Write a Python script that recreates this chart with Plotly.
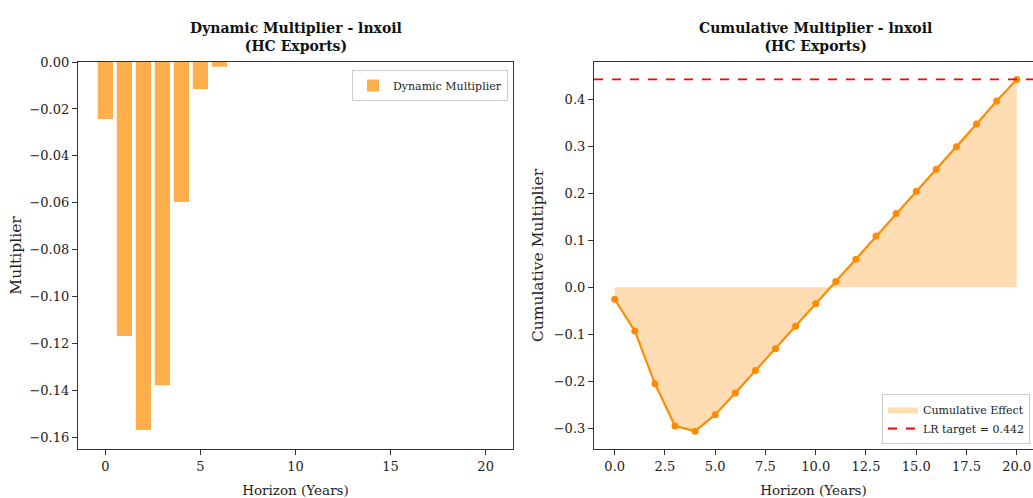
import plotly.graph_objects as go

horizon = list(range(21))
dynamic_mult = [-0.0243, -0.1167, -0.1567, -0.1377, -0.0596, -0.0115, -0.002,
                0, 0, 0, 0, 0, 0, 0, 0, 0, 0, 0, 0, 0, 0]
cumulative_mult = [-0.0256, -0.093, -0.205, -0.295, -0.306, -0.271, -0.225,
                   -0.177, -0.131, -0.083, -0.035, 0.012, 0.0596, 0.109, 0.157,
                   0.204, 0.251, 0.299, 0.347, 0.396, 0.442]
lr_target = 0.442
zero_line = [0.0] * len(horizon)

FONT = "DejaVu Serif"
W, H = 1033, 498

def px_x(p):
    return p / W

def px_y(p):
    return 1 - p / H

fig = go.Figure()

# Left: dynamic multiplier bars
fig.add_trace(go.Bar(
    x=horizon, y=dynamic_mult, width=0.8,
    marker=dict(color="rgba(255,140,0,0.7)", line=dict(width=0)),
    name="Dynamic Multiplier", xaxis="x", yaxis="y", legend="legend",
))

# Right: cumulative fill between 0 and curve
fig.add_trace(go.Scatter(
    x=horizon, y=zero_line, mode="lines", line=dict(width=0),
    showlegend=False, xaxis="x2", yaxis="y2", hoverinfo="skip",
))
fig.add_trace(go.Scatter(
    x=horizon, y=cumulative_mult, mode="lines", line=dict(width=0),
    fill="tonexty", fillcolor="rgba(255,140,0,0.3)",
    name="Cumulative Effect", xaxis="x2", yaxis="y2", legend="legend2",
))
fig.add_trace(go.Scatter(
    x=horizon, y=cumulative_mult, mode="lines+markers",
    line=dict(color="#FF8C00", width=2.2), marker=dict(color="#FF8C00", size=7),
    showlegend=False, xaxis="x2", yaxis="y2",
))
fig.add_trace(go.Scatter(
    x=[-1.03, 20.81], y=[lr_target, lr_target], mode="lines",
    line=dict(color="red", width=1.8, dash="dash"),
    name=f"LR target = {lr_target:.3f}", xaxis="x2", yaxis="y2", legend="legend2",
))

axis_common = dict(
    showline=True, linecolor="#333", linewidth=1.2,
    ticks="outside", ticklen=5, tickcolor="#333", tickwidth=1,
    showgrid=False, zeroline=False, automargin=False,
    tickfont=dict(family=FONT, size=13, color="#222"),
)

ydom = [px_y(449), px_y(62)]
xtitle_font = dict(family=FONT, size=13.5, color="#222")
ytitle_font = dict(family=FONT, size=15.5, color="#222")

fig.update_layout(
    template="none",
    width=W, height=H,
    margin=dict(l=0, r=0, t=0, b=0, autoexpand=False),
    paper_bgcolor="white", plot_bgcolor="white",
    font=dict(family=FONT, color="#222"),
    showlegend=True,
    xaxis=dict(domain=[px_x(78), px_x(513)], range=[-1.44, 21.44],
               tickvals=[0, 5, 10, 15, 20], mirror=True, anchor="y",
               title=dict(text="Horizon (Years)", font=xtitle_font, standoff=12),
               **axis_common),
    yaxis=dict(domain=ydom, range=[-0.1648, 0], anchor="x",
               tickvals=[0, -0.02, -0.04, -0.06, -0.08, -0.10, -0.12, -0.14, -0.16],
               tickformat=".2f", mirror=True,
               title=dict(text="Multiplier", font=ytitle_font, standoff=4),
               **axis_common),
    xaxis2=dict(domain=[px_x(594), 1.0], range=[-1.03, 20.81], anchor="y2",
                tickvals=[0, 2.5, 5, 7.5, 10, 12.5, 15, 17.5, 20], tickformat=".1f",
                mirror=True,
                title=dict(text="Horizon (Years)", font=xtitle_font, standoff=12),
                **axis_common),
    yaxis2=dict(domain=ydom, range=[-0.344, 0.479], anchor="x2",
                tickvals=[-0.3, -0.2, -0.1, 0, 0.1, 0.2, 0.3, 0.4], tickformat=".1f",
                title=dict(text="Cumulative Multiplier", font=ytitle_font, standoff=6),
                **axis_common),
    legend=dict(x=px_x(508), y=px_y(70), xanchor="right", yanchor="top",
                bgcolor="rgba(255,255,255,0.8)", bordercolor="#ccc", borderwidth=1,
                itemwidth=30,
                font=dict(family=FONT, size=11, color="#222")),
    legend2=dict(x=px_x(1030), y=px_y(444), xanchor="right", yanchor="bottom",
                 bgcolor="rgba(255,255,255,0.8)", bordercolor="#ccc", borderwidth=1,
                 itemwidth=30,
                 font=dict(family=FONT, size=11, color="#222"), tracegroupgap=0,
                 traceorder="normal"),
    annotations=[
        dict(text="<b>Dynamic Multiplier - lnxoil<br>(HC Exports)</b>",
             x=px_x(295.5), y=px_y(56), xref="paper", yref="paper",
             xanchor="center", yanchor="bottom", showarrow=False,
             font=dict(family=FONT, size=14, color="#111")),
        dict(text="<b>Cumulative Multiplier - lnxoil<br>(HC Exports)</b>",
             x=px_x(815), y=px_y(56), xref="paper", yref="paper",
             xanchor="center", yanchor="bottom", showarrow=False,
             font=dict(family=FONT, size=14, color="#111")),
    ],
)

post = (
    "var d=document.getElementById('{plot_id}');"
    "d.style.position='absolute';d.style.top='0px';d.style.left='0px';"
    "document.body.style.margin='0';"
    "document.body.style.overflow='hidden';"
    "document.documentElement.style.overflow='hidden';"
)

fig.write_html(
    "out.html",
    config={"displayModeBar": False},
    post_script=post,
)
